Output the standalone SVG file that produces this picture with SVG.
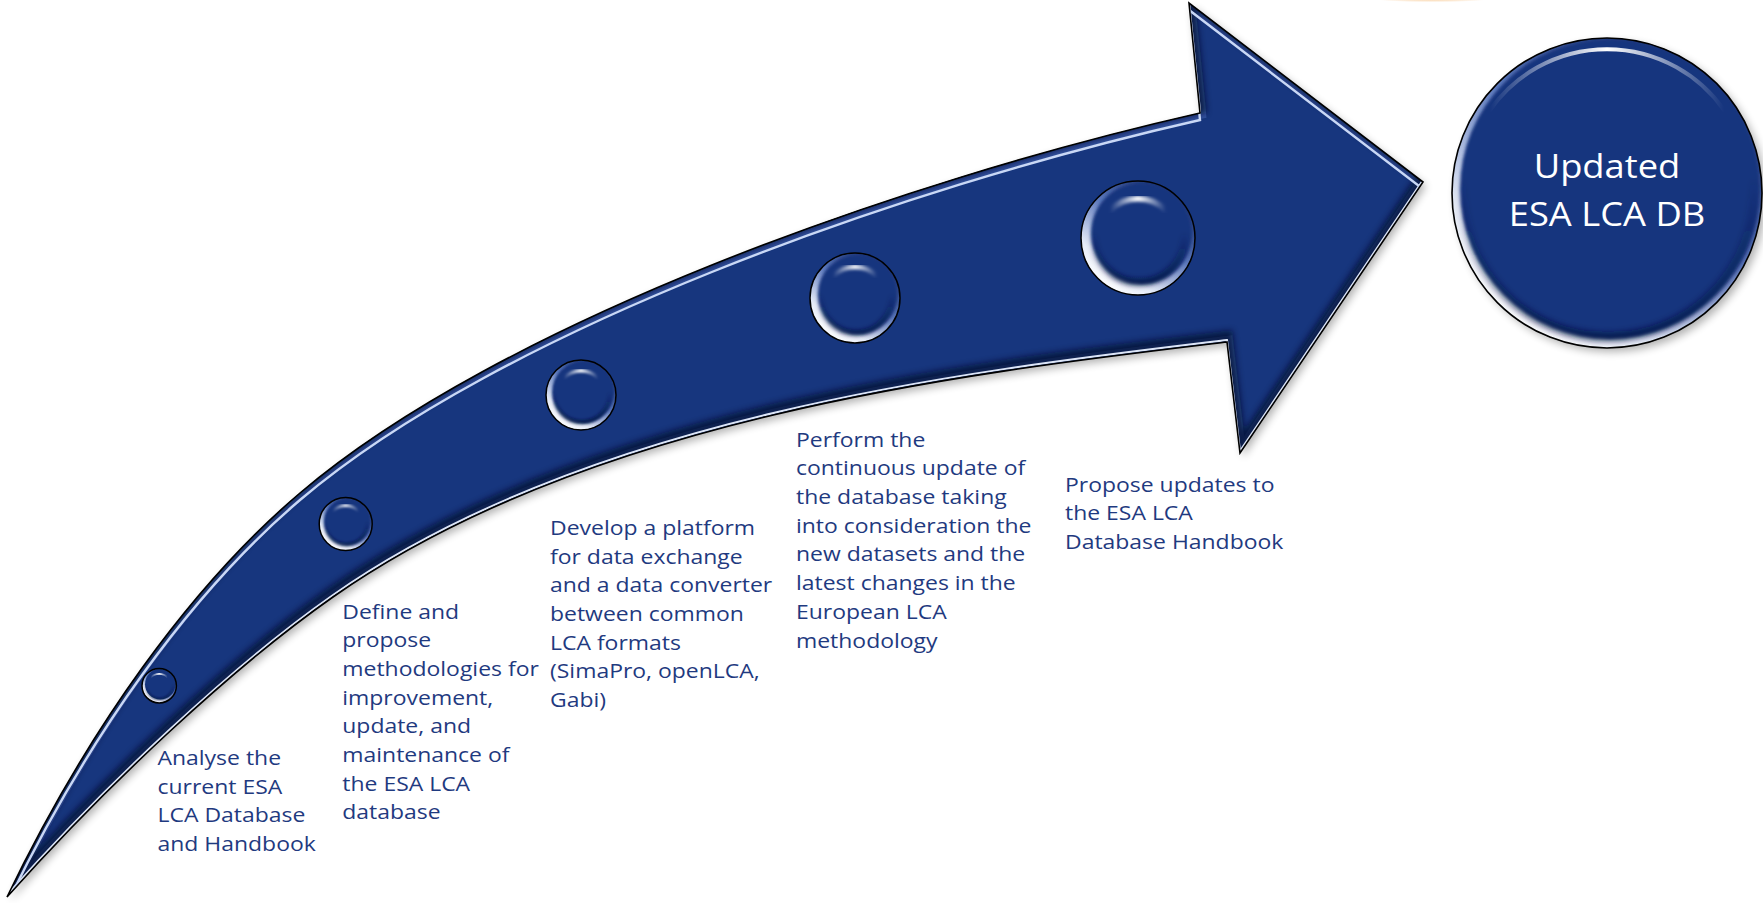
<svg xmlns="http://www.w3.org/2000/svg" xmlns:xlink="http://www.w3.org/1999/xlink" width="1763" height="903" viewBox="0 0 1763 903">
<defs>
<style>
.txt{font-family:"Open Sans","Liberation Sans",sans-serif;font-size:20px;fill:#1F3A80;}
.ttl{font-family:"Open Sans","Liberation Sans",sans-serif;font-size:32px;fill:#FFFFFF;text-anchor:middle;}
.outline{fill:none;stroke:#000;stroke-width:1.6;}
</style>
<path id="arrowShape" d="M7,897 C87,731 190,586.5 300,493 C500,323 900,181 1200,113 L1189,3 L1423,182 L1240,453 L1227,342 C977,372 593,415 333,597 C233,667 107,785 7,897 Z"/>
<clipPath id="arrowClip"><use href="#arrowShape"/></clipPath>
<filter id="blur3" x="-10%" y="-10%" width="120%" height="120%"><feGaussianBlur stdDeviation="3"/></filter>
<filter id="blur1" x="-10%" y="-10%" width="120%" height="120%"><feGaussianBlur stdDeviation="0.7"/></filter>
<filter id="shadow" x="-10%" y="-10%" width="130%" height="130%"><feGaussianBlur stdDeviation="4"/></filter>
<filter id="bblur" x="-20%" y="-20%" width="140%" height="140%"><feGaussianBlur stdDeviation="1.5"/></filter>
<filter id="bblur2" x="-20%" y="-20%" width="140%" height="140%"><feGaussianBlur stdDeviation="2.5"/></filter>
<linearGradient id="rimGrad" x1="0.85" y1="0.05" x2="0.2" y2="0.95"><stop offset="0" stop-color="#0E2463"/><stop offset="0.45" stop-color="#5C78BC"/><stop offset="0.8" stop-color="#E6ECF8"/><stop offset="1" stop-color="#FFFFFF"/></linearGradient>
<linearGradient id="innerShade" x1="0" y1="0" x2="0" y2="1"><stop offset="0.45" stop-color="#061540" stop-opacity="0"/><stop offset="1" stop-color="#061540" stop-opacity="0.8"/></linearGradient>
<linearGradient id="hlGrad" x1="0" y1="0" x2="1" y2="0"><stop offset="0" stop-color="#FFFFFF" stop-opacity="0"/><stop offset="0.5" stop-color="#FFFFFF" stop-opacity="1"/><stop offset="1" stop-color="#FFFFFF" stop-opacity="0"/></linearGradient>
<radialGradient id="orangeGrad" cx="0.5" cy="0.5" r="0.5"><stop offset="0" stop-color="#F29A2E" stop-opacity="1"/><stop offset="0.6" stop-color="#F5B060" stop-opacity="0.7"/><stop offset="1" stop-color="#F8C890" stop-opacity="0"/></radialGradient>
<clipPath id="bubClip"><circle r="49"/></clipPath>
<symbol id="bubble" viewBox="-49 -49 98 98" overflow="visible">
 <circle r="49" fill="#17367E"/>
 <g clip-path="url(#bubClip)">
  <circle r="49" fill="url(#rimGrad)"/>
  <circle cx="3" cy="-4" r="43.5" fill="#17367E" filter="url(#bblur)"/>
  <circle cx="1" cy="-1" r="39" fill="none" stroke="url(#innerShade)" stroke-width="6" filter="url(#bblur2)"/>
 </g>
 <path d="M-24,-24 A34,34 0 0 1 24,-24" fill="none" stroke="url(#hlGrad)" stroke-width="5" stroke-linecap="round" filter="url(#bblur)"/>
 <circle r="49" fill="none" stroke="#000" stroke-width="1.5" vector-effect="non-scaling-stroke"/>
</symbol>
<clipPath id="dbClip"><circle cx="1607" cy="193" r="155"/></clipPath>
</defs>

<rect width="1763" height="903" fill="#FFFFFF"/>

<ellipse cx="1432" cy="-6" rx="80" ry="8.5" fill="url(#orangeGrad)"/>

<g id="connectors">
 <g id="arrow">
  <use href="#arrowShape" fill="#000" opacity="0.3" transform="translate(3,4)" filter="url(#shadow)"/>
  <use href="#arrowShape" fill="#17367E"/>
  <g clip-path="url(#arrowClip)">
   <use href="#arrowShape" fill="none" stroke="#3A5AA6" stroke-width="12" opacity="0.8"/>
   <use href="#arrowShape" fill="none" stroke="#04102F" stroke-width="12" opacity="0.75" transform="translate(0,-5)" filter="url(#blur3)"/>
   <use href="#arrowShape" fill="none" stroke="#DCE5F7" stroke-width="2" transform="translate(0,-2)" filter="url(#blur1)"/>
   <use href="#arrowShape" fill="none" stroke="#C9D8F6" stroke-width="2.4" transform="translate(0,7)" filter="url(#blur1)"/>
  </g>
  <use href="#arrowShape" class="outline"/>
 </g>
</g>

<g id="bubble-1"><use href="#bubble" x="142" y="668.5" width="34.4" height="34.4"/></g>
<g id="bubble-2"><use href="#bubble" x="319.2" y="497.5" width="53" height="53"/></g>
<g id="bubble-3"><use href="#bubble" x="546" y="360" width="70" height="70"/></g>
<g id="bubble-4"><use href="#bubble" x="810" y="253" width="90" height="90"/></g>
<g id="bubble-5"><use href="#bubble" x="1081" y="181" width="114" height="114"/></g>

<g id="node-db">
 <circle cx="1611" cy="197" r="155" fill="#000" opacity="0.3" filter="url(#shadow)"/>
 <circle cx="1607" cy="193" r="155" fill="#17367E"/>
 <g clip-path="url(#dbClip)">
  <circle cx="1607" cy="193" r="155" fill="url(#rimGrad)"/>
  <circle cx="1610" cy="189" r="150" fill="#17367E" filter="url(#bblur)"/>
  <circle cx="1608" cy="191" r="146" fill="none" stroke="url(#innerShade)" stroke-width="8" filter="url(#blur3)"/>
 </g>
 <path d="M1490,110 A143,143 0 0 1 1724,110" fill="none" stroke="url(#hlGrad)" stroke-width="4" stroke-linecap="round" filter="url(#blur1)"/>
 <circle cx="1607" cy="193" r="155" class="outline"/>
 <g transform="translate(1607,178.3) scale(1.135,1)">
  <text class="ttl"><tspan x="0" y="0">Updated</tspan><tspan x="0" y="47.4">ESA LCA DB</tspan></text>
 </g>
</g>

<g id="step-1" transform="translate(157.5,765) scale(1.148,1)">
 <text class="txt"><tspan x="0" y="0">Analyse the</tspan><tspan x="0" y="28.7">current ESA</tspan><tspan x="0" y="57.4">LCA Database</tspan><tspan x="0" y="86.1">and Handbook</tspan></text>
</g>

<g id="step-2" transform="translate(342.3,618.5) scale(1.148,1)">
 <text class="txt"><tspan x="0" y="0">Define and</tspan><tspan x="0" y="28.7">propose</tspan><tspan x="0" y="57.4">methodologies for</tspan><tspan x="0" y="86.1">improvement,</tspan><tspan x="0" y="114.8">update, and</tspan><tspan x="0" y="143.5">maintenance of</tspan><tspan x="0" y="172.2">the ESA LCA</tspan><tspan x="0" y="200.9">database</tspan></text>
</g>

<g id="step-3" transform="translate(550,535) scale(1.148,1)">
 <text class="txt"><tspan x="0" y="0">Develop a platform</tspan><tspan x="0" y="28.7">for data exchange</tspan><tspan x="0" y="57.4">and a data converter</tspan><tspan x="0" y="86.1">between common</tspan><tspan x="0" y="114.8">LCA formats</tspan><tspan x="0" y="143.5">(SimaPro, openLCA,</tspan><tspan x="0" y="172.2">Gabi)</tspan></text>
</g>

<g id="step-4" transform="translate(796,446.7) scale(1.148,1)">
 <text class="txt"><tspan x="0" y="0">Perform the</tspan><tspan x="0" y="28.7">continuous update of</tspan><tspan x="0" y="57.4">the database taking</tspan><tspan x="0" y="86.1">into consideration the</tspan><tspan x="0" y="114.8">new datasets and the</tspan><tspan x="0" y="143.5">latest changes in the</tspan><tspan x="0" y="172.2">European LCA</tspan><tspan x="0" y="200.9">methodology</tspan></text>
</g>

<g id="step-5" transform="translate(1065,491.7) scale(1.148,1)">
 <text class="txt"><tspan x="0" y="0">Propose updates to</tspan><tspan x="0" y="28.7">the ESA LCA</tspan><tspan x="0" y="57.4">Database Handbook</tspan></text>
</g>
</svg>
